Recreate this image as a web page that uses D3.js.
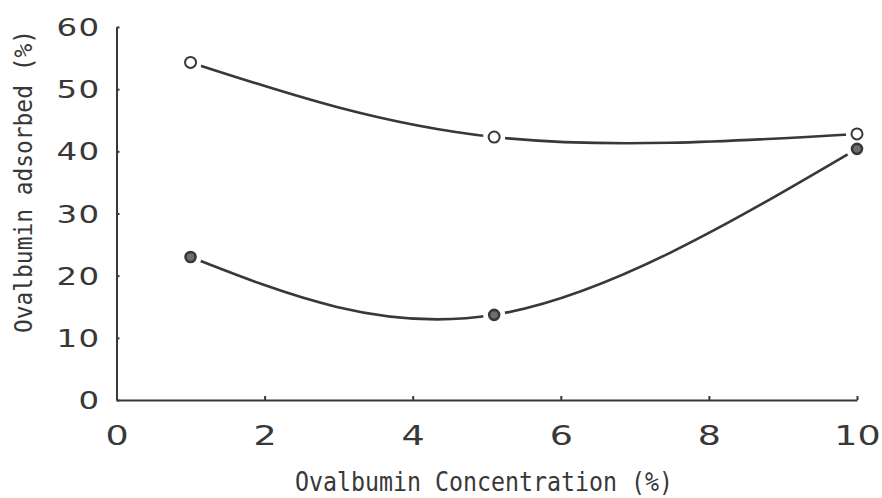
<!DOCTYPE html>
<html>
<head>
<meta charset="utf-8">
<script src="https://cdn.jsdelivr.net/npm/d3@7"></script>
<style>
  body { margin: 0; background: #fff; }
  svg { display: block; }
</style>
</head>
<body>
<svg width="882" height="498"></svg>
<script>
// values
var concentration = [1, 5.1, 10];
var adsorbedOpen = [54.3, 42.3, 42.8];    // open circles
var adsorbedFilled = [23.0, 13.7, 40.4];  // filled circles
var xTicks = [0, 2, 4, 6, 8, 10];
var yTicks = [0, 10, 20, 30, 40, 50, 60];

var svg = d3.select("svg"),
    ink = "#383838";

var x = d3.scaleLinear().domain([0, 10]).range([116.5, 857]),
    y = d3.scaleLinear().domain([0, 60]).range([400, 27]);

var series = [
  {id: "open", values: adsorbedOpen},
  {id: "filled", values: adsorbedFilled}
].map(function(s) {
  return {id: s.id, points: concentration.map(function(c, i) { return {x: c, y: s.values[i]}; })};
});

var line = d3.line()
    .x(function(d) { return x(d.x); })
    .y(function(d) { return y(d.y); })
    .curve(d3.curveNatural);

// axes
var labelScale = 1.35;

var yAxis = svg.append("g")
    .attr("transform", "translate(" + x(0) + ",0)")
    .call(d3.axisLeft(y).tickValues(yTicks).tickSize(-3).tickSizeOuter(0).tickPadding(16));

var xAxis = svg.append("g")
    .attr("transform", "translate(0," + y(0) + ")")
    .call(d3.axisBottom(x).tickValues(xTicks).tickSize(-4).tickSizeOuter(0));

[yAxis, xAxis].forEach(function(a) {
  a.attr("font-family", null).attr("font-size", null);
  a.selectAll(".domain, line").attr("stroke", ink).attr("stroke-width", 2);
  a.selectAll("text")
      .attr("fill", ink)
      .style("font-family", "'DejaVu Sans', sans-serif")
      .style("letter-spacing", "1px");
});

yAxis.selectAll("text")
    .style("font-size", "24px")
    .attr("x", -16 / labelScale)
    .attr("dy", "0.36em")
    .attr("transform", "scale(" + labelScale + ",1)");

xAxis.selectAll("text")
    .style("font-size", "27px")
    .style("letter-spacing", "0px")
    .attr("y", 45)
    .attr("dy", 0)
    .attr("transform", "scale(" + labelScale + ",1)");

// axis titles
svg.append("text")
    .attr("x", 295)
    .attr("y", 491)
    .attr("textLength", 378)
    .attr("lengthAdjust", "spacingAndGlyphs")
    .attr("fill", ink)
    .style("font-family", "'DejaVu Sans Mono', monospace")
    .style("font-size", "27px")
    .text("Ovalbumin Concentration (%)");

svg.append("text")
    .attr("transform", "translate(32,333) rotate(-90)")
    .attr("textLength", 303)
    .attr("lengthAdjust", "spacingAndGlyphs")
    .attr("fill", ink)
    .style("font-family", "'DejaVu Sans Mono', monospace")
    .style("font-size", "25px")
    .text("Ovalbumin adsorbed (%)");

// curves
svg.selectAll(".curve")
  .data(series)
  .enter().append("path")
    .attr("class", "curve")
    .attr("d", function(d) { return line(d.points); })
    .attr("fill", "none")
    .attr("stroke", ink)
    .attr("stroke-width", 2.6);

// white gaps around the markers first, then the markers on top
var allPoints = [];
series.forEach(function(s) {
  s.points.forEach(function(p) { allPoints.push({id: s.id, x: p.x, y: p.y}); });
});

svg.selectAll(".halo")
  .data(allPoints)
  .enter().append("circle")
    .attr("class", "halo")
    .attr("cx", function(d) { return x(d.x); })
    .attr("cy", function(d) { return y(d.y); })
    .attr("r", 11)
    .attr("fill", "#fff");

svg.selectAll(".dot")
  .data(allPoints)
  .enter().append("circle")
    .attr("class", "dot")
    .attr("cx", function(d) { return x(d.x); })
    .attr("cy", function(d) { return y(d.y); })
    .attr("r", function(d) { return d.id == "open" ? 5.5 : 5; })
    .attr("fill", function(d) { return d.id == "open" ? "#fff" : "#6e6e6e"; })
    .attr("stroke", ink)
    .attr("stroke-width", function(d) { return d.id == "open" ? 2 : 2.6; });
</script>
</body>
</html>
